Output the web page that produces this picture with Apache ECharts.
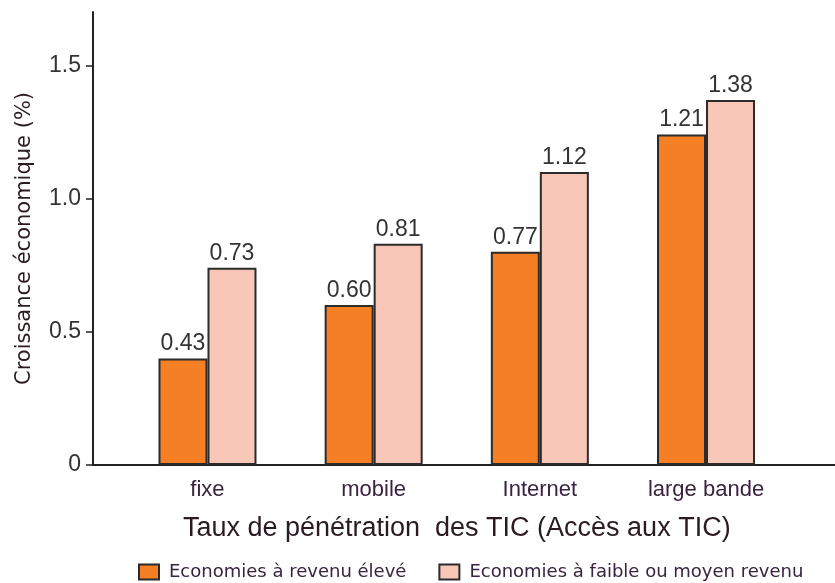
<!DOCTYPE html>
<html>
<head>
<meta charset="utf-8">
<script src="https://cdn.jsdelivr.net/npm/echarts@6/dist/echarts.min.js"></script>
<style>
  html, body { margin: 0; padding: 0; background: #fff; }
  #chart { width: 835px; height: 583px; }
</style>
</head>
<body>
<div id="chart"></div>
<script>
// catégories et valeurs
const categories = ['fixe', 'mobile', 'Internet', 'large bande']
const seriesNames = ['Economies à revenu élevé', 'Economies à faible ou moyen revenu']
// hauteur des barres telle que dessinée
const highIncome = [0.40, 0.60, 0.80, 1.24]
const lowIncome = [0.74, 0.83, 1.10, 1.37]
// étiquettes affichées au-dessus des barres
const highLabels = ['0.43', '0.60', '0.77', '1.21']
const lowLabels = ['0.73', '0.81', '1.12', '1.38']
const yTicks = [0, 0.5, 1, 1.5]

const chart = echarts.init(document.getElementById('chart'))
const sans = "'Liberation Sans', Arial, sans-serif"

function barSeries(name, values, labels, color) {
  return {
    name: name,
    type: 'bar',
    xAxisIndex: 0,
    yAxisIndex: 0,
    data: values,
    barWidth: 49,
    barGap: '0%',
    itemStyle: {
      color: color,
      borderColor: '#2b2b2b',
      borderWidth: 2
    },
    label: {
      show: true,
      position: 'top',
      distance: 3,
      color: '#333',
      fontSize: 23,
      fontFamily: sans,
      formatter: (p) => labels[p.dataIndex]
    }
  }
}

const option = {
  backgroundColor: '#fff',
  animation: false,
  grid: [
    // grille des barres
    { left: 124.4, right: 45.9, top: 12, bottom: 118 },
    // grille des axes visibles
    { left: 93, right: 0, top: 12, bottom: 118 }
  ],
  legend: {
    left: 133,
    top: 558,
    itemWidth: 20,
    itemHeight: 15,
    itemGap: 32,
    icon: 'rect',
    textStyle: {
      fontSize: 18,
      color: '#3a2340',
      fontFamily: "'DejaVu Sans', sans-serif",
      padding: [0, 0, 0, 5]
    },
    data: seriesNames
  },
  xAxis: [
    {
      type: 'category',
      gridIndex: 0,
      data: categories,
      axisLine: { show: false },
      axisTick: { show: false },
      axisLabel: {
        margin: 14,
        fontSize: 22,
        color: '#3a2340',
        fontFamily: sans
      },
      name: 'Taux de pénétration  des TIC (Accès aux TIC)',
      nameLocation: 'middle',
      nameGap: 50,
      nameTextStyle: {
        fontSize: 27,
        color: '#2a1a22',
        fontFamily: sans
      }
    },
    {
      type: 'value',
      gridIndex: 1,
      min: 0,
      max: 1,
      axisLine: { show: true, lineStyle: { color: '#222', width: 2 } },
      axisTick: { show: false },
      axisLabel: { show: false },
      splitLine: { show: false }
    }
  ],
  yAxis: [
    {
      type: 'value',
      gridIndex: 0,
      min: 0,
      max: 1.7,
      show: false
    },
    {
      type: 'value',
      gridIndex: 1,
      min: 0,
      max: 1.7,
      axisLine: { show: true, lineStyle: { color: '#222', width: 2 } },
      axisTick: {
        show: true,
        length: 7,
        customValues: yTicks,
        lineStyle: { color: '#222', width: 1.5 }
      },
      axisLabel: {
        margin: 12,
        fontSize: 23,
        color: '#333',
        fontFamily: sans,
        customValues: yTicks,
        formatter: (v) => v === 0 ? '0' : v.toFixed(1)
      },
      splitLine: { show: false },
      name: 'Croissance économique (%)',
      nameLocation: 'middle',
      nameGap: 58,
      nameTextStyle: {
        fontSize: 21,
        color: '#2a1a22',
        fontFamily: "'DejaVu Sans', sans-serif"
      }
    }
  ],
  series: [
    barSeries(seriesNames[0], highIncome, highLabels, '#F47F24'),
    barSeries(seriesNames[1], lowIncome, lowLabels, '#F8C7B7')
  ]
}

chart.setOption(option)
</script>
</body>
</html>
